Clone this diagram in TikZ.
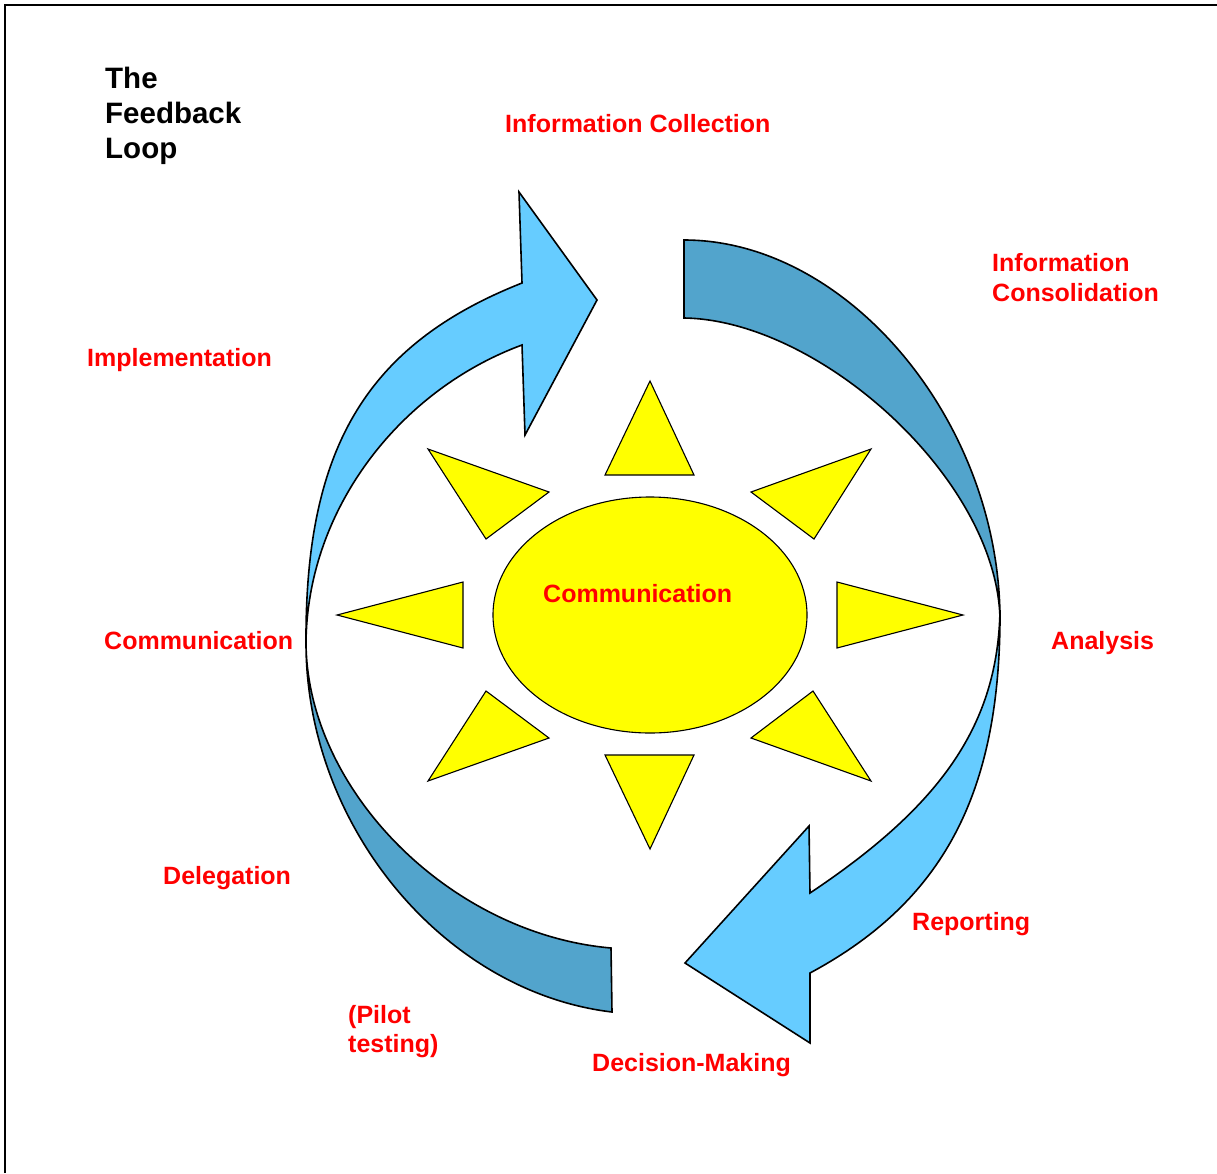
\documentclass[tikz,border=0pt]{standalone}
\usepackage{fontspec}
\setmainfont{Liberation Sans}
\definecolor{arrowlight}{RGB}{102,204,255}
\definecolor{arrowdark}{RGB}{82,164,204}
\definecolor{sunyellow}{RGB}{255,255,0}
\definecolor{labelred}{RGB}{255,0,0}
\begin{document}
\begin{tikzpicture}[x=1pt,y=-1pt,
  band/.style={draw=black,line width=1.6pt,line join=miter},
  lightband/.style={band,fill=arrowlight},
  darkband/.style={band,fill=arrowdark},
  ray/.style={draw=black,line width=1.1pt,fill=sunyellow,line join=miter},
  lbl/.style={text=labelred,font=\bfseries\fontsize{25}{29.4}\selectfont,inner sep=0pt,align=left},
  ttl/.style={text=black,font=\bfseries\fontsize{29.5}{35}\selectfont,inner sep=0pt,align=left}]

\useasboundingbox (0,0) rectangle (1217,1173);

% page frame (top and left edges)
\draw[line width=1.5pt] (5,1173) -- (5,5) -- (1217,5);

% dark crescent, upper right
\filldraw[darkband] (684,240) .. controls (848,240) and (1000,422) .. (1000,620)
  .. controls (998,480) and (820,320) .. (684,318) -- cycle;

% dark crescent, lower left
\filldraw[darkband] (612,1012) -- (611,948) .. controls (450,934) and (307,790) .. (306,643)
  .. controls (306,826) and (444,992) .. (612,1012) -- cycle;

% curved arrow, upper left, pointing right
\filldraw[lightband] (306,643) .. controls (305,450) and (365,345) .. (522,283)
  -- (519,192) -- (597,300) -- (525,435) -- (522,345)
  .. controls (400,390) and (307,509) .. (306,643) -- cycle;

% curved arrow, lower right, pointing left
\filldraw[lightband] (1000,610) .. controls (1001,792) and (944,901) .. (810,973)
  -- (810,1043) -- (685,963) -- (809,826) -- (810,893)
  .. controls (942,805) and (998,724) .. (1000,610) -- cycle;

% sun: rays
\filldraw[ray] (650,381) -- (694,475) -- (605,475) -- cycle;
\filldraw[ray] (650,849) -- (694,755) -- (605,755) -- cycle;
\filldraw[ray] (337,615) -- (463,582) -- (463,648) -- cycle;
\filldraw[ray] (963,615) -- (837,582) -- (837,648) -- cycle;
\filldraw[ray] (428,449) -- (549,492) -- (486,539) -- cycle;
\filldraw[ray] (871,449) -- (751,492) -- (814,539) -- cycle;
\filldraw[ray] (428,781) -- (486,691) -- (549,738) -- cycle;
\filldraw[ray] (871,781) -- (813,691) -- (751,738) -- cycle;

% sun: disc
\filldraw[ray] (650,615) ellipse [x radius=157, y radius=118];

% labels
\node[ttl,anchor=north west] (title) at (105,66.8) {The\\Feedback\\Loop};
\node[lbl,anchor=base west] (collect) at (505,132.3) {Information Collection};
\node[lbl,anchor=north west] (consol) at (992,253.5) {Information\\Consolidation};
\node[lbl,anchor=base west] (implement) at (87,366) {Implementation};
\node[lbl,anchor=base west] (commleft) at (104,649) {Communication};
\node[lbl,anchor=base west] (commsun) at (543,602) {Communication};
\node[lbl,anchor=base west] (analysis) at (1051,649) {Analysis};
\node[lbl,anchor=base west] (delegate) at (163,884) {Delegation};
\node[lbl,anchor=base west] (report) at (912,930) {Reporting};
\node[lbl,anchor=north west] (pilot) at (348,1005) {(Pilot\\testing)};
\node[lbl,anchor=base west] (decide) at (592,1071) {Decision-Making};
\end{tikzpicture}
\end{document}
